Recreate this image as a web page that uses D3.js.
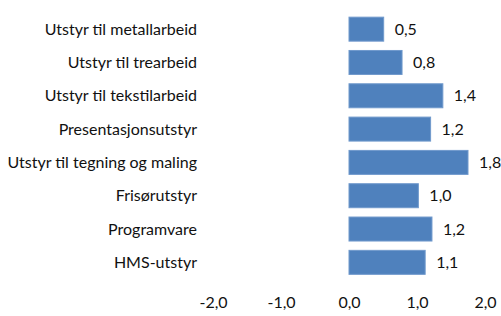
<!DOCTYPE html>
<html>
<head>
<meta charset="utf-8">
<script src="https://cdn.jsdelivr.net/npm/d3@7"></script>
<style>
  html, body { margin: 0; padding: 0; background: #fff; }
  svg { display: block; }
  text { font-family: Lato, "Open Sans", sans-serif; fill: #111; }
</style>
</head>
<body>
<div id="chart"></div>
<script>
const categories = [
  'Utstyr til metallarbeid',
  'Utstyr til trearbeid',
  'Utstyr til tekstilarbeid',
  'Presentasjonsutstyr',
  'Utstyr til tegning og maling',
  'Frisørutstyr',
  'Programvare',
  'HMS-utstyr'
];
// estimated underlying values (bar lengths), labels show one decimal
const values = [0.51, 0.78, 1.38, 1.2, 1.75, 1.02, 1.22, 1.12];
const ticks = [-2, -1, 0, 1, 2];

const W = 501, H = 316;
// comma decimal, plain hyphen for minus
const fmt = v => d3.format('.1f')(v).replace('.', ',').replace('\u2212', '-');

const svg = d3.select('#chart').append('svg')
  .attr('width', W)
  .attr('height', H);

const x = d3.scaleLinear().domain([-2, 2]).range([213, 485]);
const y = d3.scaleBand().domain(categories).range([12.5, 279]).paddingInner(0.28).paddingOuter(0.14);

// Bars
svg.append('g')
  .selectAll('rect')
  .data(values)
  .join('rect')
  .attr('x', x(0))
  .attr('y', (d, i) => y(categories[i]))
  .attr('width', d => x(d) - x(0))
  .attr('height', y.bandwidth())
  .attr('fill', '#4f81bd')
  .attr('stroke', '#7099cc')
  .attr('stroke-width', 1);

// Value labels
svg.append('g')
  .selectAll('text')
  .data(values)
  .join('text')
  .attr('x', d => x(d) + 11)
  .attr('y', (d, i) => y(categories[i]) + y.bandwidth() / 2)
  .attr('dy', '0.35em')
  .attr('font-size', 16)
  .text(d => fmt(d));

// Category labels
svg.append('g')
  .selectAll('text')
  .data(categories)
  .join('text')
  .attr('x', 197)
  .attr('y', d => y(d) + y.bandwidth() / 2)
  .attr('dy', '0.35em')
  .attr('text-anchor', 'end')
  .attr('font-size', 16)
  .text(d => d);

// X axis (labels only)
const xAxis = svg.append('g')
  .attr('transform', 'translate(0,297)')
  .call(d3.axisBottom(x).tickValues(ticks).tickSize(0).tickPadding(0).tickFormat(fmt));
xAxis.select('.domain').remove();
xAxis.selectAll('text')
  .attr('font-size', 16)
  .attr('font-family', 'Lato, sans-serif')
  .attr('fill', '#111');
</script>
</body>
</html>
